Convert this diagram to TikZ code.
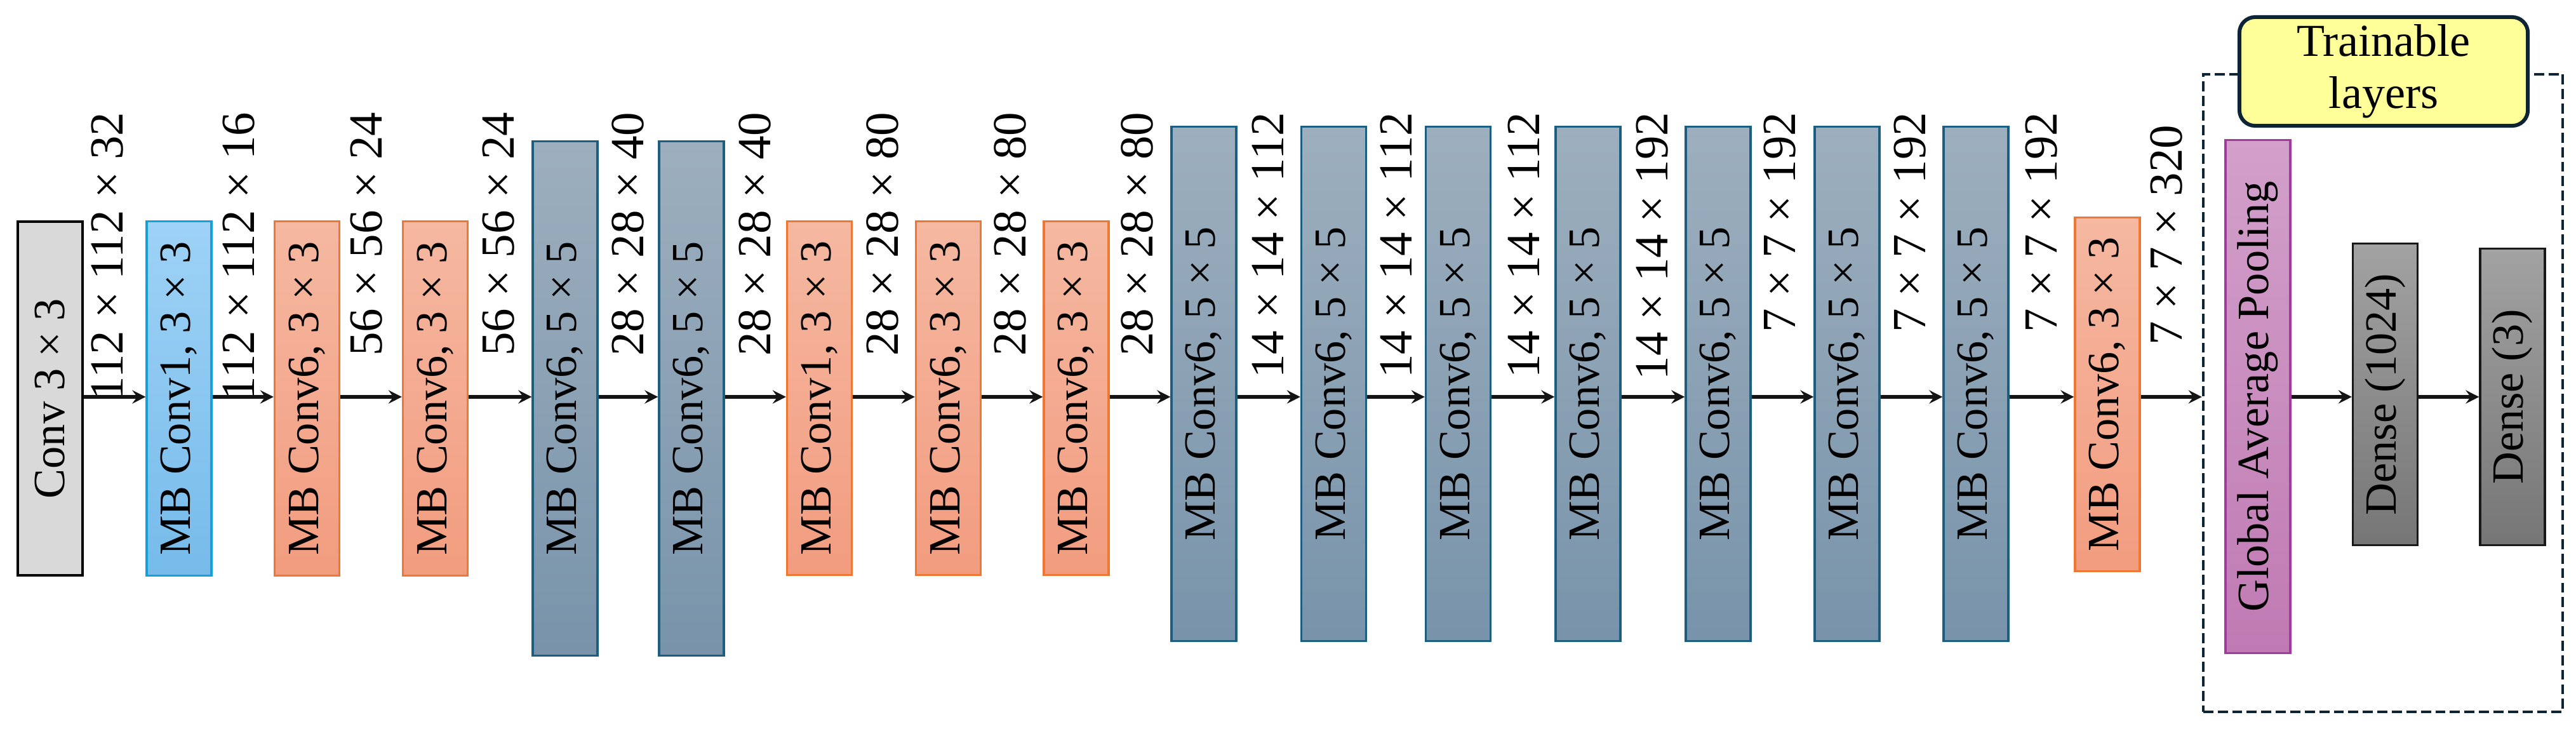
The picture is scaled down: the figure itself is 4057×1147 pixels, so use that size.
\documentclass[tikz,border=0pt]{standalone}
\usepackage{fontspec}
\setmainfont{Liberation Serif}
\usetikzlibrary{arrows.meta}
\definecolor{convgray}{HTML}{D9D9D9}
\definecolor{mbonedraw}{HTML}{14A0DB}
\definecolor{mbonetop}{HTML}{9ED2F6}
\definecolor{mbonebot}{HTML}{76BBEA}
\definecolor{ordraw}{HTML}{EE7733}
\definecolor{ortop}{HTML}{F5B8A1}
\definecolor{orbot}{HTML}{F29C7F}
\definecolor{bgdraw}{HTML}{1C5E80}
\definecolor{bgtop}{HTML}{9DAFBE}
\definecolor{bgbot}{HTML}{7893AA}
\definecolor{gapdraw}{HTML}{A23A9E}
\definecolor{gaptop}{HTML}{D2A0CA}
\definecolor{gapbot}{HTML}{C07AB3}
\definecolor{densetop}{HTML}{A2A2A2}
\definecolor{densebot}{HTML}{767676}
\definecolor{framecol}{HTML}{0C2433}
\definecolor{trainyellow}{HTML}{FFFF99}
\tikzset{
  blk/.style={line width=0.9pt, inner sep=0pt, minimum width=1.02cm},
  convbox/.style={blk, draw=black, line width=1.2pt, fill=convgray, minimum height=5.57cm},
  mbone/.style={blk, draw=mbonedraw, top color=mbonetop, bottom color=mbonebot, minimum height=5.57cm},
  orbox/.style={blk, draw=ordraw, top color=ortop, bottom color=orbot, minimum height=5.57cm},
  bgbox/.style={blk, draw=bgdraw, top color=bgtop, bottom color=bgbot, minimum height=8.09cm},
  gapbox/.style={blk, draw=gapdraw, top color=gaptop, bottom color=gapbot, minimum height=8.07cm},
  densebox/.style={blk, draw=black!90, top color=densetop, bottom color=densebot},
  blab/.style={rotate=90, font=\fontsize{20}{24}\selectfont, inner sep=0pt},
  dlab/.style={rotate=90, anchor=east, font=\fontsize{21.3}{25}\selectfont, inner sep=0pt},
  arr/.style={-{Stealth[length=6pt,width=6pt,inset=2.2pt]}, line width=1.5pt, black!92},
}
\begin{document}
\begin{tikzpicture}[x=0.01cm, y=-0.01cm]
\path[use as bounding box] (0,0) rectangle (4057,1147);
\coordinate (ref) at (0,625);

% trainable frame
\node[draw=framecol, dash pattern=on 4.5pt off 2pt, line width=1.2pt, minimum width=5.66cm, minimum height=10.04cm, inner sep=0pt] (frame) at (3753,619) {};
\node[draw=framecol, fill=trainyellow, line width=1.7pt, rounded corners=7pt, minimum width=4.54cm, minimum height=1.71cm, align=center, inner sep=0pt, font=\fontsize{20.5}{23.3}\selectfont] (train) at (3754,112.5) {Trainable\\layers};

% boxes
\node[convbox] (conv) at (79,627.5) {};
\node[blab] (convt) at (conv) {Conv 3 × 3};
\node[mbone] (mb1) at (282,627.5) {};
\node[blab] (mb1t) at (mb1) {MB Conv1, 3 × 3};
\node[orbox] (o1) at (483.5,627.5) {};
\node[blab] (o1t) at (o1) {MB Conv6, 3 × 3};
\node[orbox] (o2) at (685.5,627.5) {};
\node[blab] (o2t) at (o2) {MB Conv6, 3 × 3};
\node[bgbox] (b1) at (890,627.5) {};
\node[blab] (b1t) at (b1) {MB Conv6, 5 × 5};
\node[bgbox] (b2) at (1089,627.5) {};
\node[blab] (b2t) at (b2) {MB Conv6, 5 × 5};
\node[orbox] (o3) at (1290.5,627) {};
\node[blab] (o3t) at (o3) {MB Conv1, 3 × 3};
\node[orbox] (o4) at (1493.5,627) {};
\node[blab] (o4t) at (o4) {MB Conv6, 3 × 3};
\node[orbox] (o5) at (1695,627) {};
\node[blab] (o5t) at (o5) {MB Conv6, 3 × 3};
\node[bgbox] (b3) at (1896,604.5) {};
\node[blab] (b3t) at (b3) {MB Conv6, 5 × 5};
\node[bgbox] (b4) at (2100.5,604.5) {};
\node[blab] (b4t) at (b4) {MB Conv6, 5 × 5};
\node[bgbox] (b5) at (2296.5,604.5) {};
\node[blab] (b5t) at (b5) {MB Conv6, 5 × 5};
\node[bgbox] (b6) at (2501,604.5) {};
\node[blab] (b6t) at (b6) {MB Conv6, 5 × 5};
\node[bgbox] (b7) at (2706,604.5) {};
\node[blab] (b7t) at (b7) {MB Conv6, 5 × 5};
\node[bgbox] (b8) at (2909,604.5) {};
\node[blab] (b8t) at (b8) {MB Conv6, 5 × 5};
\node[bgbox] (b9) at (3112,604.5) {};
\node[blab] (b9t) at (b9) {MB Conv6, 5 × 5};
\node[orbox] (o6) at (3319,621) {};
\node[blab] (o6t) at (o6) {MB Conv6, 3 × 3};
\node[gapbox] (gap) at (3556,624.5) {};
\node[blab] (gapt) at (gap) {Global Average Pooling};
\node[densebox, minimum height=4.74cm] (d1) at (3756.5,621) {};
\node[blab] (d1t) at (d1) {Dense (1024)};
\node[densebox, minimum height=4.66cm] (d2) at (3957,625) {};
\node[blab] (d2t) at (d2) {Dense (3)};

% dimension labels
\node[dlab] (l1) at (169,176) {112 × 112 × 32};
\node[dlab] (l2) at (376,176) {112 × 112 × 16};
\node[dlab] (l3) at (577,176) {56 × 56 × 24};
\node[dlab] (l4) at (785,176) {56 × 56 × 24};
\node[dlab] (l5) at (989,176) {28 × 28 × 40};
\node[dlab] (l6) at (1189,176) {28 × 28 × 40};
\node[dlab] (l7) at (1390,176) {28 × 28 × 80};
\node[dlab] (l8) at (1591,176) {28 × 28 × 80};
\node[dlab] (l9) at (1791,176) {28 × 28 × 80};
\node[dlab] (l10) at (1997,176) {14 × 14 × 112};
\node[dlab] (l11) at (2199,176) {14 × 14 × 112};
\node[dlab] (l12) at (2400,176) {14 × 14 × 112};
\node[dlab] (l13) at (2602,176) {14 × 14 × 192};
\node[dlab] (l14) at (2803,176) {7 × 7 × 192};
\node[dlab] (l15) at (3008,176) {7 × 7 × 192};
\node[dlab] (l16) at (3215,176) {7 × 7 × 192};
\node[dlab] (l17) at (3412,196) {7 × 7 × 320};

% arrows
\draw[arr] (conv.east |- ref) -- (mb1.west |- ref);
\draw[arr] (mb1.east |- ref) -- (o1.west |- ref);
\draw[arr] (o1.east |- ref) -- (o2.west |- ref);
\draw[arr] (o2.east |- ref) -- (b1.west |- ref);
\draw[arr] (b1.east |- ref) -- (b2.west |- ref);
\draw[arr] (b2.east |- ref) -- (o3.west |- ref);
\draw[arr] (o3.east |- ref) -- (o4.west |- ref);
\draw[arr] (o4.east |- ref) -- (o5.west |- ref);
\draw[arr] (o5.east |- ref) -- (b3.west |- ref);
\draw[arr] (b3.east |- ref) -- (b4.west |- ref);
\draw[arr] (b4.east |- ref) -- (b5.west |- ref);
\draw[arr] (b5.east |- ref) -- (b6.west |- ref);
\draw[arr] (b6.east |- ref) -- (b7.west |- ref);
\draw[arr] (b7.east |- ref) -- (b8.west |- ref);
\draw[arr] (b8.east |- ref) -- (b9.west |- ref);
\draw[arr] (b9.east |- ref) -- (o6.west |- ref);
\draw[arr] (o6.east |- ref) -- (frame.west |- ref);
\draw[arr] (gap.east |- ref) -- (d1.west |- ref);
\draw[arr] (d1.east |- ref) -- (d2.west |- ref);
\end{tikzpicture}
\end{document}
